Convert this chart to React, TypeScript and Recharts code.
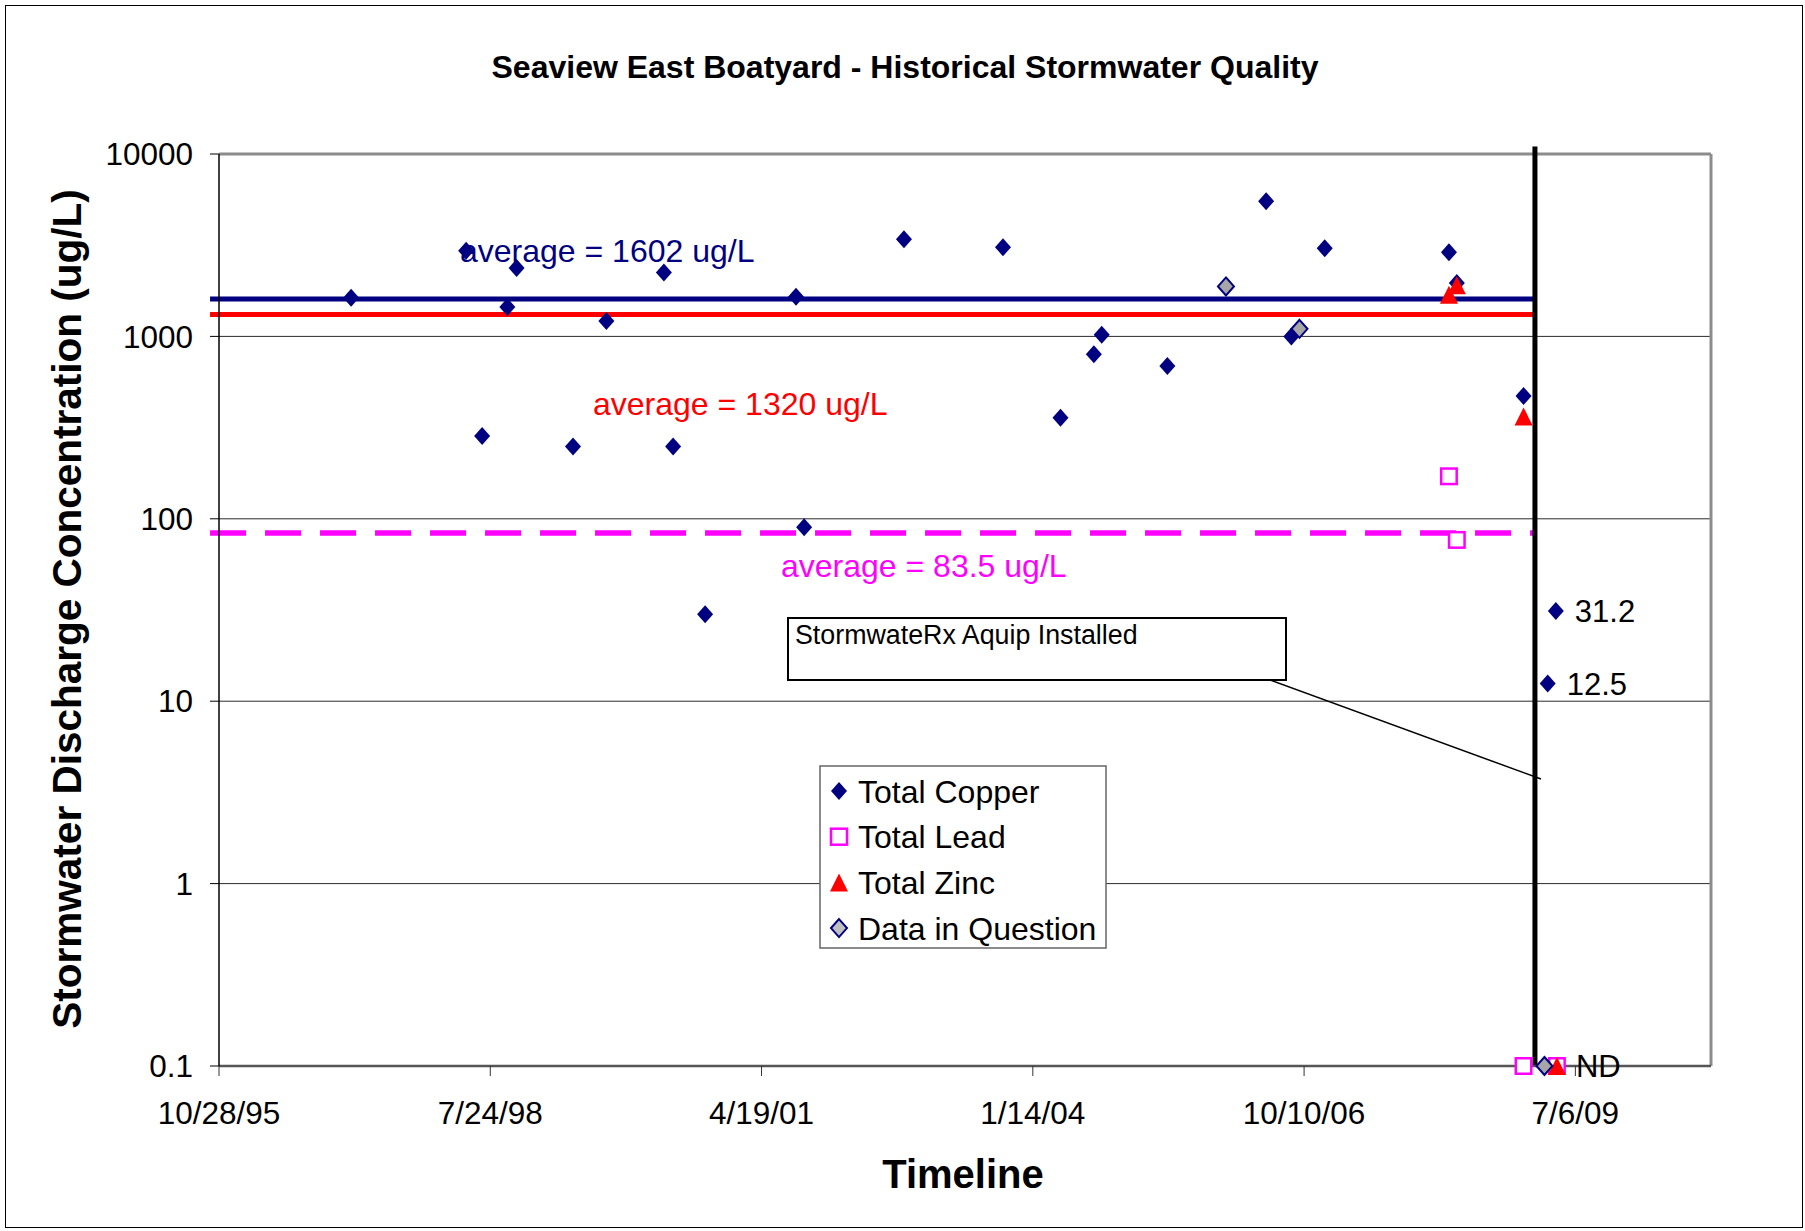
import { ComposedChart, Scatter, XAxis, YAxis, CartesianGrid, ReferenceLine } from 'recharts';

const FONT = '"Liberation Sans", Arial, sans-serif';
const NAVY = '#000080';
const RED = '#FF0000';
const MAGENTA = '#FF00FF';

// x values are Excel date serials (35000 = 10/28/95)
const xTicks = [35000, 36000, 37000, 38000, 39000, 40000];
const xTickLabels = ['10/28/95', '7/24/98', '4/19/01', '1/14/04', '10/10/06', '7/6/09'];
const yTicks = [0.1, 1, 10, 100, 1000, 10000];

const copperDates = [35487, 35911, 35970, 36063, 36097, 36305, 36428, 36640, 36674, 36792, 37127, 37157, 37525, 37890, 38102, 38225, 38254, 38496, 38860, 38953, 39076, 39534, 39563, 39809, 39898, 39928];
const copperValues = [1630, 2950, 284, 1450, 2370, 249, 1215, 2240, 249, 30, 1650, 90, 3410, 3080, 358, 797, 1020, 689, 5510, 1000, 3040, 2890, 1960, 471, 12.5, 31.2];

const leadDates = [39534, 39563, 39809, 39932];
const leadValues = [171, 76.6, 0.1, 0.1];

const zincDates = [39534, 39563, 39809, 39932];
const zincValues = [1690, 1910, 364, 0.1];

const questionDates = [38712, 38983, 39886];
const questionValues = [1880, 1100, 0.1];

// text shown beside single points
const copperNotes: Record<number, string> = { 39898: '12.5', 39928: '31.2' };
const zincNotes: Record<number, string> = { 39932: 'ND' };

const copperAvg = 1602;
const zincAvg = 1320;
const leadAvg = 83.5;
const avgStart = 34967;
const installDate = 39851;
const xMax = 40500;

const toPoints = (dates: number[], values: number[], notes: Record<number, string> = {}) =>
  dates.map((x, i) => ({ x, y: values[i], note: notes[x] || '' }));

const copperData = toPoints(copperDates, copperValues, copperNotes);
const leadData = toPoints(leadDates, leadValues);
const zincData = toPoints(zincDates, zincValues, zincNotes);
const questionData = toPoints(questionDates, questionValues);

const Note = ({ cx, cy, text }: { cx: number; cy: number; text: string }) =>
  text ? (
    <text x={cx + 19} y={cy} dy="0.36em" fontSize={31} fontFamily={FONT} fill="#000">
      {text}
    </text>
  ) : null;

const diamondPath = (cx: number, cy: number, w = 8, h = 9) =>
  `M${cx},${cy - h}L${cx + w},${cy}L${cx},${cy + h}L${cx - w},${cy}Z`;

const triPath = (cx: number, cy: number) => `M${cx},${cy - 9}L${cx + 9},${cy + 9}L${cx - 9},${cy + 9}Z`;

const CopperShape = (p: any) => (
  <g>
    <path d={diamondPath(p.cx, p.cy)} fill={NAVY} />
    <Note cx={p.cx} cy={p.cy} text={p.payload?.note} />
  </g>
);

const QuestionShape = (p: any) => (
  <path d={diamondPath(p.cx, p.cy)} fill="#A6A6A6" stroke={NAVY} strokeWidth={2} />
);

const LeadShape = (p: any) => (
  <rect x={p.cx - 7.75} y={p.cy - 7.75} width={15.5} height={15.5} fill="#fff" stroke={MAGENTA} strokeWidth={2.5} />
);

const ZincShape = (p: any) => (
  <g>
    <path d={triPath(p.cx, p.cy)} fill={RED} />
    <Note cx={p.cx} cy={p.cy} text={p.payload?.note} />
  </g>
);

const legendItems = [
  { name: 'Total Copper', kind: 'copper' },
  { name: 'Total Lead', kind: 'lead' },
  { name: 'Total Zinc', kind: 'zinc' },
  { name: 'Data in Question', kind: 'question' },
];

const LegendMarker = ({ kind, cx, cy }: { kind: string; cx: number; cy: number }) => {
  if (kind === 'copper') return <path d={diamondPath(cx, cy)} fill={NAVY} />;
  if (kind === 'lead') return <rect x={cx - 8} y={cy - 8} width={16} height={16} fill="#fff" stroke={MAGENTA} strokeWidth={2.5} />;
  if (kind === 'zinc') return <path d={triPath(cx, cy)} fill={RED} />;
  return <path d={diamondPath(cx, cy)} fill="#C0C0C0" stroke={NAVY} strokeWidth={2} />;
};

export default function App() {
  return (
    <div style={{ position: 'absolute', left: 0, top: 0, width: 1805, height: 1231, background: '#fff', fontFamily: FONT }}>
      <div style={{ position: 'absolute', left: 5, top: 5, width: 1796, height: 1221, border: '1.5px solid #000' }} />
      <ComposedChart width={1805} height={1231} margin={{ top: 154, right: 94, left: 119, bottom: 105 }}>
        <CartesianGrid vertical={false} stroke="#2a2a2a" strokeWidth={1} />
        <XAxis
          type="number"
          dataKey="x"
          domain={[35000, xMax]}
          ticks={xTicks}
          tickFormatter={(v: number) => xTickLabels[xTicks.indexOf(v)] ?? ''}
          height={60}
          tickSize={10}
          tickMargin={26}
          axisLine={{ stroke: '#555', strokeWidth: 2.5 }}
          tickLine={{ stroke: '#333' }}
          tick={{ fill: '#000', fontSize: 31.5, fontFamily: FONT }}
        />
        <YAxis
          type="number"
          dataKey="y"
          scale="log"
          domain={[0.1, 10000]}
          ticks={yTicks}
          width={100}
          tickSize={9}
          tickMargin={17}
          axisLine={{ stroke: '#000', strokeWidth: 1.5 }}
          tickLine={{ stroke: '#000' }}
          tick={{ fill: '#000', fontSize: 31.5, fontFamily: FONT }}
        />
        <ReferenceLine y={10000} stroke="#8c8c8c" strokeWidth={3} />
        <ReferenceLine x={xMax} stroke="#8c8c8c" strokeWidth={3} />
        <ReferenceLine
          segment={[{ x: avgStart, y: copperAvg }, { x: installDate, y: copperAvg }]}
          stroke={NAVY}
          strokeWidth={5}
          ifOverflow="visible"
        />
        <ReferenceLine
          segment={[{ x: avgStart, y: zincAvg }, { x: installDate, y: zincAvg }]}
          stroke={RED}
          strokeWidth={5}
          ifOverflow="visible"
        />
        <ReferenceLine
          segment={[{ x: avgStart, y: leadAvg }, { x: installDate, y: leadAvg }]}
          stroke={MAGENTA}
          strokeWidth={5.5}
          strokeDasharray="36 19"
          ifOverflow="visible"
        />
        <ReferenceLine
          segment={[{ x: installDate, y: 0.1 }, { x: installDate, y: 11000 }]}
          stroke="#000"
          strokeWidth={5}
          ifOverflow="visible"
        />
        <Scatter name="Total Copper" data={copperData} shape={CopperShape} isAnimationActive={false} />
        <Scatter name="Total Lead" data={leadData} shape={LeadShape} isAnimationActive={false} />
        <Scatter name="Total Zinc" data={zincData} shape={ZincShape} isAnimationActive={false} />
        <Scatter name="Data in Question" data={questionData} shape={QuestionShape} isAnimationActive={false} />
      </ComposedChart>
      <svg width={1805} height={1231} style={{ position: 'absolute', left: 0, top: 0, pointerEvents: 'none' }} fontFamily={FONT}>
        <text x={905} y={66} dy="0.36em" textAnchor="middle" fontSize={32} fontWeight="bold" fill="#000">
          Seaview East Boatyard - Historical Stormwater Quality
        </text>
        <text
          x={66}
          y={609}
          dy="0.36em"
          textAnchor="middle"
          fontSize={40.5}
          fontWeight="bold"
          fill="#000"
          transform="rotate(-90 66 609)"
        >
          Stormwater Discharge Concentration (ug/L)
        </text>
        <text x={963} y={1174} dy="0.36em" textAnchor="middle" fontSize={40} fontWeight="bold" fill="#000">
          Timeline
        </text>
        <text x={460} y={250} dy="0.36em" fontSize={32} fill={NAVY}>average = 1602 ug/L</text>
        <text x={593} y={403} dy="0.36em" fontSize={32} fill={RED}>average = 1320 ug/L</text>
        <text x={781} y={565} dy="0.36em" fontSize={32} fill={MAGENTA}>average = 83.5 ug/L</text>

        <line x1={1270} y1={680} x2={1541} y2={779} stroke="#000" strokeWidth={1.5} />
        <rect x={788} y={618} width={498} height={62} fill="#fff" stroke="#000" strokeWidth={2} />
        <text x={795} y={644} fontSize={26.8} fill="#000">StormwateRx Aquip Installed</text>

        <rect x={820} y={766} width={286} height={182} fill="#fff" stroke="#666" strokeWidth={1.5} />
        {legendItems.map((item, i) => (
          <g key={item.name}>
            <LegendMarker kind={item.kind} cx={839} cy={791 + i * 45.7} />
            <text x={858} y={791 + i * 45.7} dy="0.36em" fontSize={32} fill="#000">
              {item.name}
            </text>
          </g>
        ))}
      </svg>
    </div>
  );
}
